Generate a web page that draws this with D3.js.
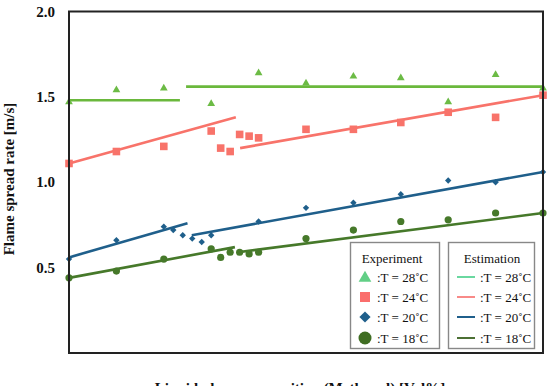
<!DOCTYPE html>
<html>
<head>
<meta charset="utf-8">
<script src="https://cdn.jsdelivr.net/npm/d3@7"></script>
<style>
  body { margin: 0; background: #fff; }
  svg { display: block; }
  svg text { font-family: 'Liberation Serif', 'DejaVu Serif', 'Times New Roman', Times, serif; }
</style>
</head>
<body>
<svg id="chart"></svg>
<script>
// measured values
const xMain = [0, 10, 20, 30, 40, 50, 60, 70, 80, 90, 100];
const exp28 = [1.47, 1.54, 1.55, 1.46, 1.64, 1.58, 1.62, 1.61, 1.47, 1.63, 1.55];

const x24 = [0, 10, 20, 30, 32, 34, 36, 38, 40, 50, 60, 70, 80, 90, 100];
const exp24 = [1.11, 1.18, 1.21, 1.30, 1.20, 1.18, 1.28, 1.27, 1.26, 1.31, 1.31, 1.35, 1.41, 1.38, 1.51];

const x20 = [0, 10, 20, 22, 24, 26, 28, 30, 40, 50, 60, 70, 80, 90, 100];
const exp20 = [0.55, 0.66, 0.74, 0.72, 0.69, 0.67, 0.65, 0.69, 0.77, 0.85, 0.88, 0.93, 1.01, 1.00, 1.06];

const x18 = [0, 10, 20, 30, 32, 34, 36, 38, 40, 50, 60, 70, 80, 90, 100];
const exp18 = [0.44, 0.48, 0.55, 0.61, 0.56, 0.59, 0.59, 0.58, 0.59, 0.67, 0.72, 0.77, 0.78, 0.82, 0.82];

// estimation line segments [[x, y], [x, y]]
const est28 = [[[0, 1.48], [23.4, 1.48]], [[24.7, 1.56], [100, 1.56]]];
const est24 = [[[0, 1.11], [35.2, 1.38]], [[36.1, 1.20], [100, 1.51]]];
const est20 = [[[0, 0.56], [25, 0.76]], [[25.9, 0.69], [100, 1.06]]];
const est18 = [[[0, 0.44], [35, 0.62]], [[35.6, 0.59], [100, 0.82]]];

const yTicks = [0.5, 1.0, 1.5, 2.0];
const tempLabels = ['28', '24', '20', '18'];

const config = {
  width: 549, height: 386,
  left: 69, right: 543, top: 11.5, bottom: 353
};

const svg = d3.select('#chart')
    .attr('width', config.width)
    .attr('height', config.height);

const xScale = d3.scaleLinear().domain([0, 100]).range([config.left, config.right]);
const yScale = d3.scaleLinear().domain([0, 2]).range([config.bottom, config.top]);

// y tick labels
svg.append('g')
    .selectAll('text')
    .data(yTicks)
    .join('text')
    .attr('x', 55)
    .attr('y', d => yScale(d) + 5)
    .attr('text-anchor', 'end')
    .attr('font-weight', 'bold')
    .attr('font-size', '15px')
    .attr('fill', '#111')
    .text(d => d.toFixed(1));

// axis titles
svg.append('text')
    .attr('transform', `translate(14, 179) rotate(-90)`)
    .attr('text-anchor', 'middle')
    .attr('font-weight', 'bold')
    .attr('font-size', '15px')
    .attr('fill', '#111')
    .text('Flame spread rate [m/s]');

// the title sits partly below the picture edge, as in the source
svg.append('text')
    .attr('x', 300)
    .attr('y', 393)
    .attr('text-anchor', 'middle')
    .attr('font-weight', 'bold')
    .attr('font-size', '15px')
    .attr('fill', '#111')
    .text('Liquid phase composition (Methanol) [Vol%]');

const chart = svg.append('g');

// estimation lines
const line = d3.line().x(d => xScale(d[0])).y(d => yScale(d[1]));
const estSeries = [
  {segs: est28, color: '#6ab83c'},
  {segs: est24, color: '#f8736a'},
  {segs: est20, color: '#1f5f8b'},
  {segs: est18, color: '#46792a'}
];
estSeries.forEach(s => {
  chart.append('g')
      .selectAll('path')
      .data(s.segs)
      .join('path')
      .attr('d', line)
      .attr('fill', 'none')
      .attr('stroke', s.color)
      .attr('stroke-width', 2.6);
});

// experiment markers
const pts = (xs, ys) => xs.map((x, i) => [x, ys[i]]);

chart.append('g')
    .selectAll('path')
    .data(pts(xMain, exp28))
    .join('path')
    .attr('d', d3.symbol(d3.symbolTriangle, 26))
    .attr('transform', d => `translate(${xScale(d[0])},${yScale(d[1])})`)
    .attr('fill', '#6cbb45');

chart.append('g')
    .selectAll('rect')
    .data(pts(x24, exp24))
    .join('rect')
    .attr('x', d => xScale(d[0]) - 3.8)
    .attr('y', d => yScale(d[1]) - 3.8)
    .attr('width', 7.6)
    .attr('height', 7.6)
    .attr('fill', '#f8736a');

chart.append('g')
    .selectAll('path')
    .data(pts(x20, exp20))
    .join('path')
    .attr('d', d3.symbol(d3.symbolDiamond2, 26))
    .attr('transform', d => `translate(${xScale(d[0])},${yScale(d[1])})`)
    .attr('fill', '#1f5f8b');

chart.append('g')
    .selectAll('circle')
    .data(pts(x18, exp18))
    .join('circle')
    .attr('cx', d => xScale(d[0]))
    .attr('cy', d => yScale(d[1]))
    .attr('r', 3.6)
    .attr('fill', '#46792a');

// frame
svg.append('rect')
    .attr('x', config.left)
    .attr('y', yScale(2))
    .attr('width', config.right - config.left)
    .attr('height', config.bottom - yScale(2))
    .attr('fill', 'none')
    .attr('stroke', '#222')
    .attr('stroke-width', 2);

// legend
const legend = svg.append('g').attr('fill', '#111');
const rowY = [277, 297, 317, 338];

legend.append('rect')
    .attr('x', 350.5).attr('y', 242.5).attr('width', 89).attr('height', 106)
    .attr('fill', '#fff').attr('stroke', '#888').attr('stroke-width', 1.4);
legend.append('rect')
    .attr('x', 448.5).attr('y', 242.5).attr('width', 86).attr('height', 106)
    .attr('fill', '#fff').attr('stroke', '#888').attr('stroke-width', 1.4);

legend.append('text').attr('x', 392).attr('y', 263).attr('text-anchor', 'middle')
    .attr('font-size', '13px').text('Experiment');
legend.append('text').attr('x', 492).attr('y', 263).attr('text-anchor', 'middle')
    .attr('font-size', '13px').text('Estimation');

// legend markers
legend.append('path').attr('d', d3.symbol(d3.symbolTriangle, 70))
    .attr('transform', `translate(365,${rowY[0] + 1})`).attr('fill', '#62cf86');
legend.append('rect').attr('x', 360).attr('y', rowY[1] - 5).attr('width', 10).attr('height', 10)
    .attr('fill', '#fa6e6c');
legend.append('path').attr('d', d3.symbol(d3.symbolDiamond2, 80))
    .attr('transform', `translate(365,${rowY[2]})`).attr('fill', '#1f5f8b');
legend.append('circle').attr('cx', 365).attr('cy', rowY[3]).attr('r', 6.5)
    .attr('fill', '#3f6d22');

const legendLineColors = ['#6ad8a0', '#f88a88', '#1f5f8b', '#4c7034'];
legend.append('g')
    .selectAll('line')
    .data(legendLineColors)
    .join('line')
    .attr('x1', 457).attr('x2', 475)
    .attr('y1', (d, i) => rowY[i]).attr('y2', (d, i) => rowY[i])
    .attr('stroke', d => d)
    .attr('stroke-width', 2);

legend.append('g')
    .selectAll('text')
    .data(tempLabels)
    .join('text')
    .attr('x', 377)
    .attr('y', (d, i) => rowY[i] + 4.5)
    .attr('font-size', '13px')
    .text(d => `:T = ${d}˚C`);

legend.append('g')
    .selectAll('text')
    .data(tempLabels)
    .join('text')
    .attr('x', 480)
    .attr('y', (d, i) => rowY[i] + 4.5)
    .attr('font-size', '13px')
    .text(d => `:T = ${d}˚C`);
</script>
</body>
</html>
